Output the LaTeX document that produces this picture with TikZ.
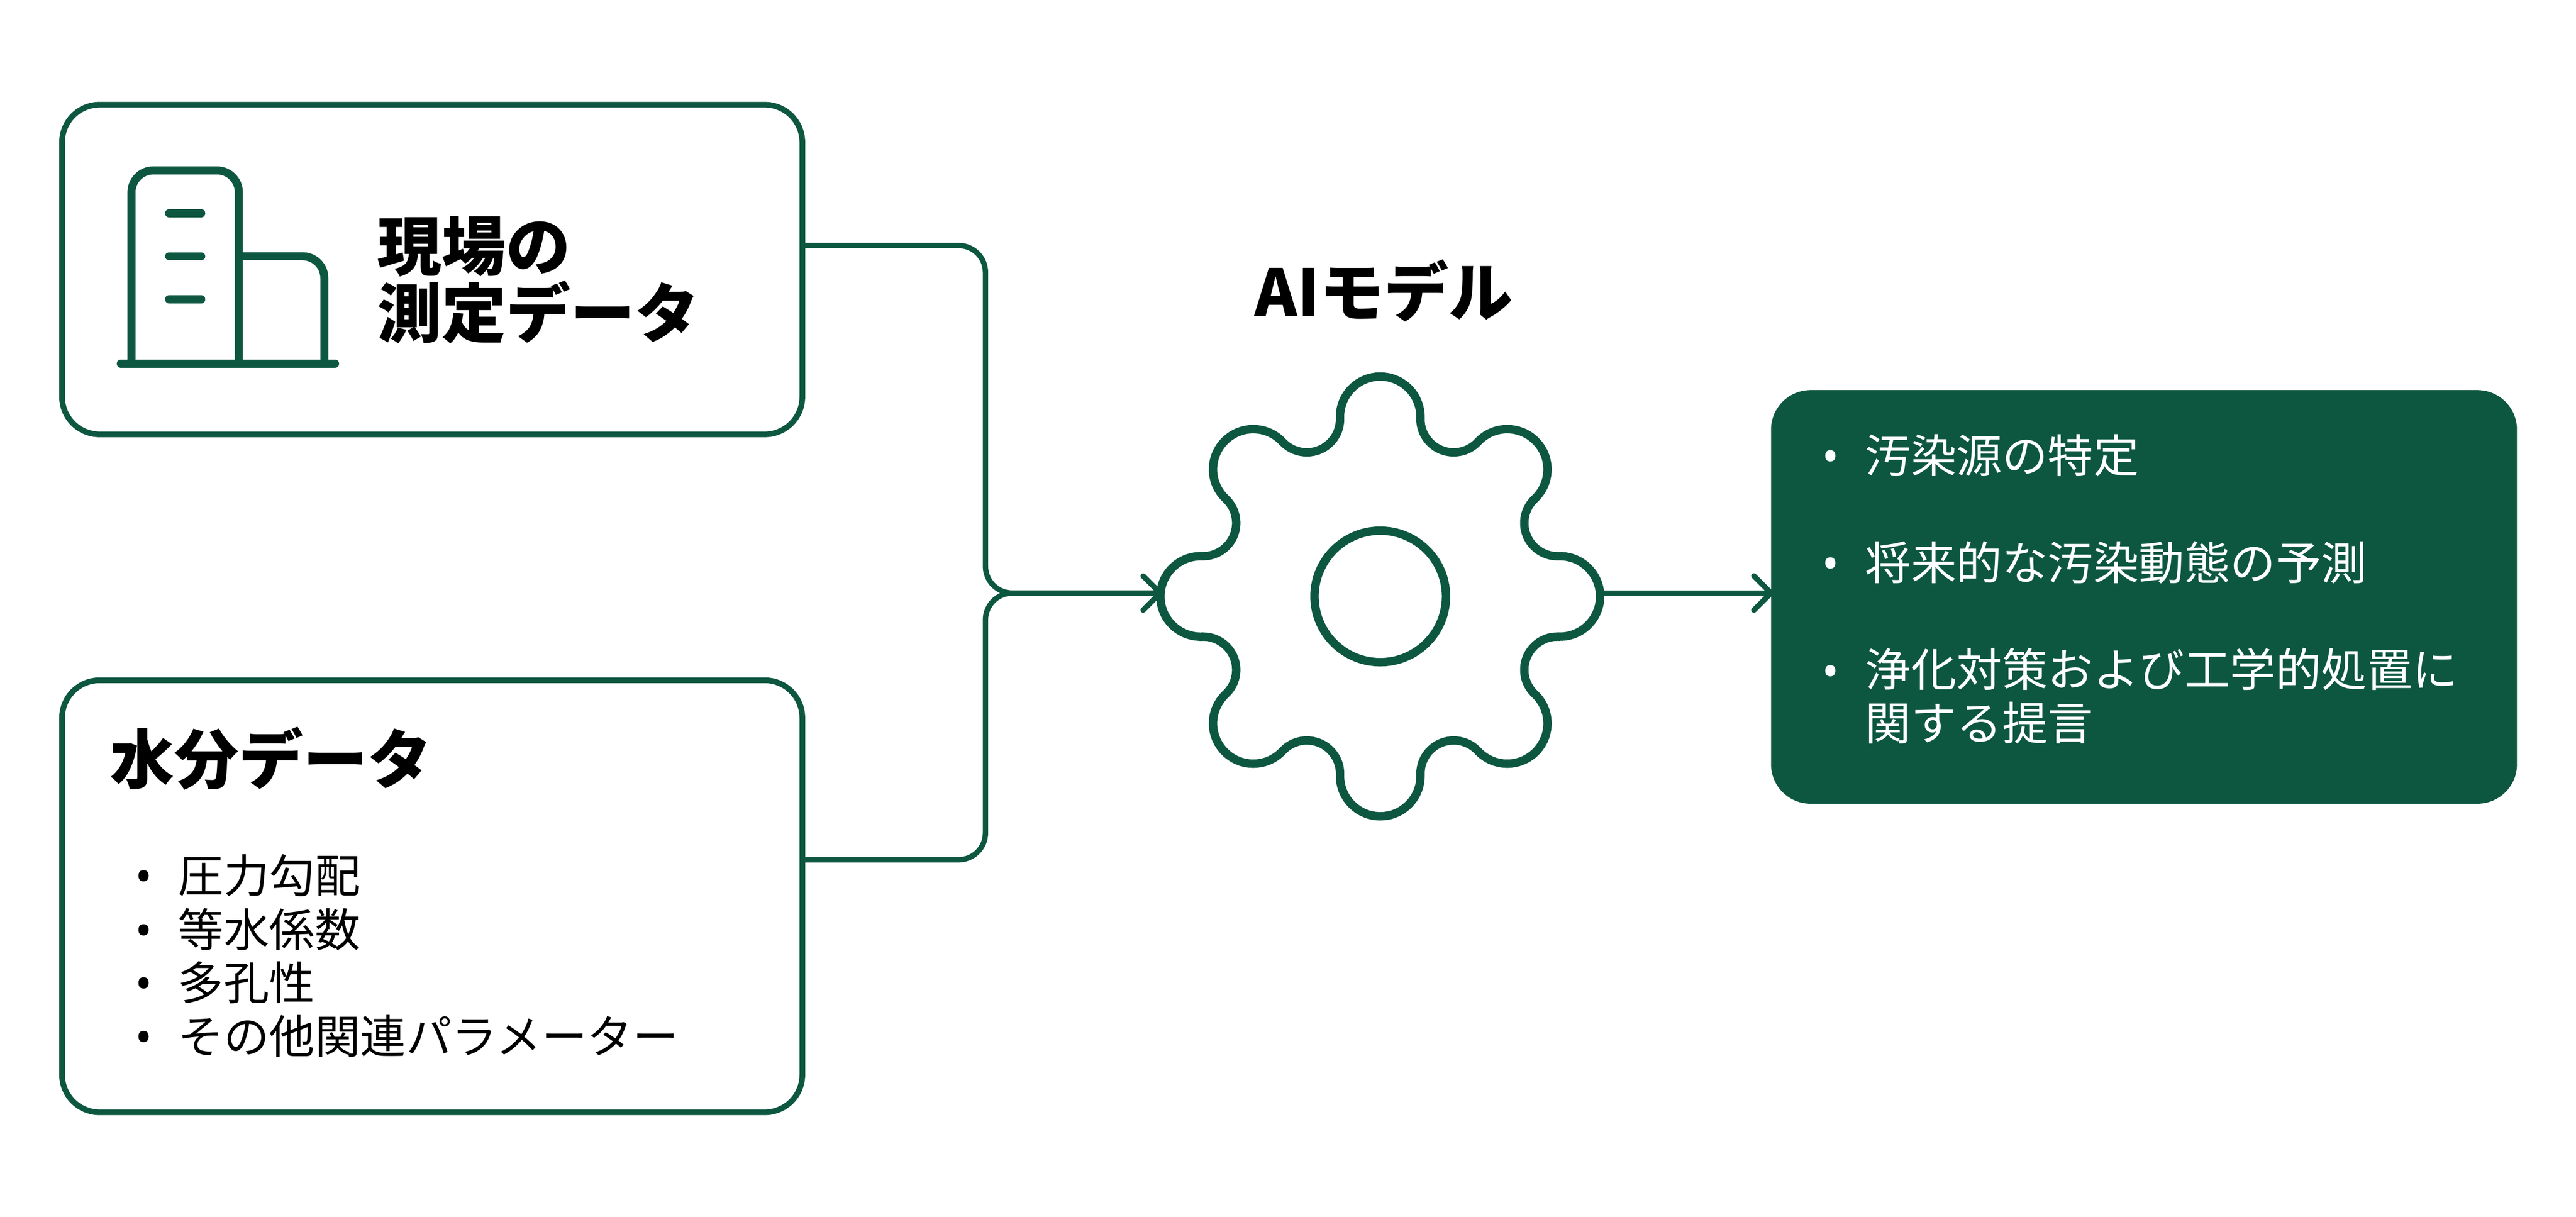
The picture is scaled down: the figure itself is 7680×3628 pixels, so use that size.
\documentclass[tikz,border=0pt]{standalone}
\usepackage{fontspec}
\setmainfont{Noto Sans CJK JP}
\newfontfamily\bulfont{Noto Sans}
\usetikzlibrary{arrows.meta,calc}
\definecolor{dkgreen}{HTML}{0D5741}
\tikzset{
  card/.style={draw=dkgreen,line width=17pt,rounded corners=112pt,fill=white,inner sep=0pt,outer sep=0pt},
  darkcard/.style={fill=dkgreen,rounded corners=118pt,inner sep=0pt,outer sep=0pt},
  headtext/.style={anchor=base west,inner sep=0pt,outer sep=0pt,font=\fontsize{192}{200}\selectfont\bfseries},
  itemtext/.style={anchor=base west,inner sep=0pt,outer sep=0pt,align=left,font=\fontsize{136}{160}\selectfont},
  bullet/.style={anchor=base,inner sep=0pt,outer sep=0pt,font=\fontsize{136}{160}\selectfont\bulfont},
  conn/.style={draw=dkgreen,line width=16pt,rounded corners=80pt},
  tipped/.style={-{Straight Barb[length=51pt,width=102pt,round]},shorten >=-8pt},
  icon/.style={draw=dkgreen,line width=24pt,line cap=round,rounded corners=65pt},
}
\begin{document}
\begin{tikzpicture}[x=1pt,y=-1pt]
\useasboundingbox (0,0) rectangle (7680,3628);
% cards
\node[card,minimum width=2207pt,minimum height=983pt] (box1) at (1288.5,803.5) {};
\node[card,minimum width=2207pt,minimum height=1288pt] (box2) at (1288.5,2672) {};
% connectors
\coordinate (in1) at (2938,732);
\coordinate (in2) at (2938,2563);
\coordinate (merge) at (2938,1768);
\node[inner sep=0pt,outer sep=0pt,minimum width=1312pt,minimum height=1312pt] (gear) at (4115,1778) {};
\node[darkcard,minimum width=2224pt,minimum height=1233pt] (result) at (6392,1779.5) {};
\draw[conn] (box1.east |- in1) -- (in1) -- (merge) -- (merge -| gear.west);
\draw[conn,tipped] (box2.east |- in2) -- (in2) -- (merge) -- (merge -| gear.west);
\draw[conn,tipped] (merge -| gear.east) -- (merge -| result.west);
% gear
\begin{scope}[shift={(gear.center)}]
\draw[draw=dkgreen,line width=25pt,line join=round]
  ($(90:535.5pt)+(181.84:120pt)$)
  \foreach \k [evaluate=\k as \t using 90-45*\k, evaluate=\k as \f using 67.5-45*\k] in {0,...,7} {
    arc[start angle=\t+91.84,end angle=\t-91.84,radius=120pt]
    arc[start angle=\f+110.66,end angle=\f+249.34,radius=99pt]
  } -- cycle;
\end{scope}
\node[circle,draw=dkgreen,line width=25pt,inner sep=0pt,minimum size=392pt] (hub) at (gear.center) {};
% building icon
\draw[icon] (392,1084) -- (392,508) -- (712,508) -- (712,1084);
\draw[icon] (712,764) -- (967,764) -- (967,1084);
\draw[icon] (360,1084) -- (999,1084);
\draw[icon] (504,636) -- (600,636);
\draw[icon] (504,764) -- (600,764);
\draw[icon] (504,892) -- (600,892);
% texts
\node[headtext,align=left] (t1) at (1125,1006) {現場の\\測定データ};
\node[headtext] (t2) at (328,2336) {水分データ};
\node[headtext] (t3) at (3741,943) {AIモデル};
\node[bullet] (b1) at (429,2661) {•};
\node[itemtext] (l1) at (531,2661) {圧力勾配};
\node[bullet] (b2) at (429,2823) {•};
\node[itemtext] (l2) at (531,2823) {等水係数};
\node[bullet] (b3) at (429,2981) {•};
\node[itemtext] (l3) at (531,2981) {多孔性};
\node[bullet] (b4) at (429,3140) {•};
\node[itemtext] (l4) at (531,3140) {その他関連パラメーター};
\node[bullet,text=white] (b5) at (5457,1409) {•};
\node[itemtext,text=white] (r1) at (5561,1409) {汚染源の特定};
\node[bullet,text=white] (b6) at (5457,1729) {•};
\node[itemtext,text=white] (r2) at (5561,1729) {将来的な汚染動態の予測};
\node[bullet,text=white] (b7) at (5457,2049) {•};
\node[itemtext,text=white] (r3) at (5561,2206) {浄化対策および工学的処置に\\関する提言};
\end{tikzpicture}
\end{document}
